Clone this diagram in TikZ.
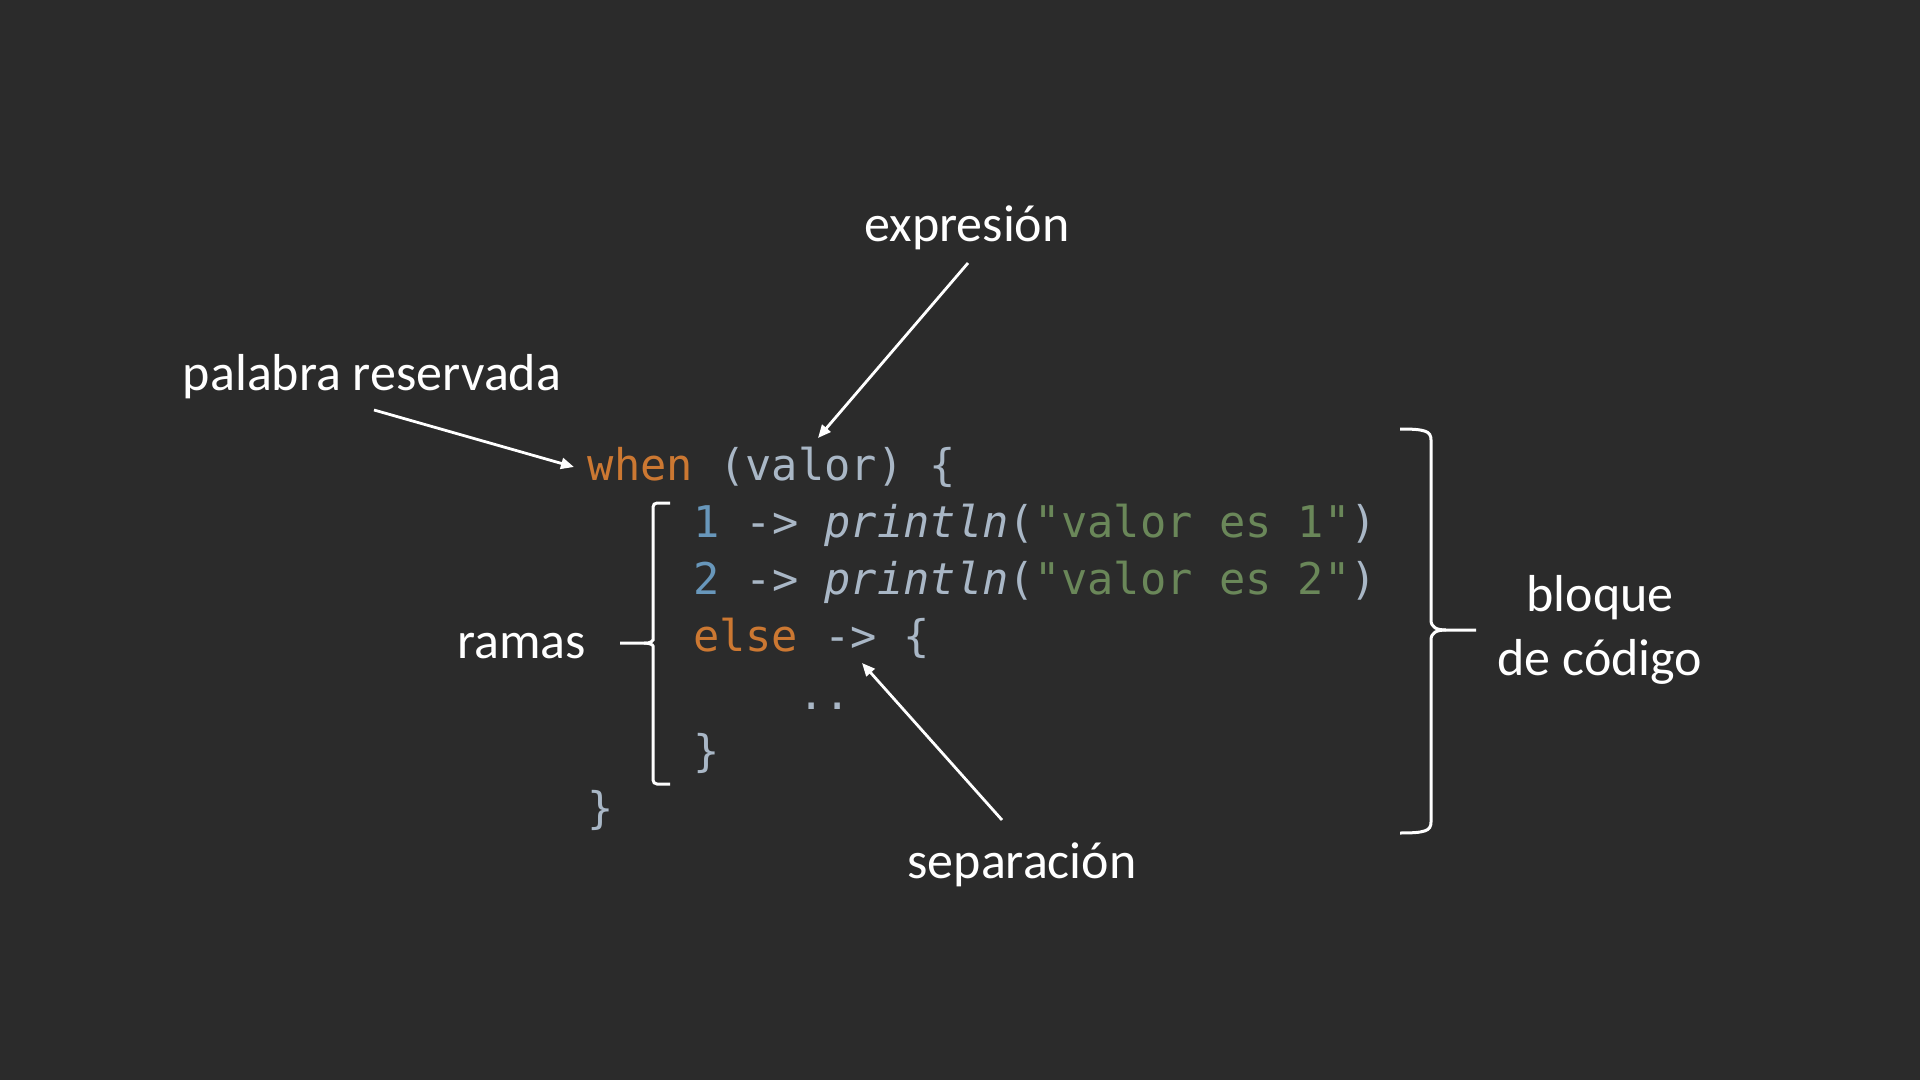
\documentclass[tikz,border=0pt]{standalone}
\usepackage{fontspec}
\setmainfont{Carlito}
\setmonofont{DejaVu Sans Mono}
\usetikzlibrary{arrows.meta}
\definecolor{BgDark}{HTML}{2B2B2B}
\definecolor{CodeText}{HTML}{A9B7C6}
\definecolor{CodeKey}{HTML}{CC7832}
\definecolor{CodeNum}{HTML}{6897BB}
\definecolor{CodeStr}{HTML}{6A8759}
\newcommand{\ckw}[1]{\textcolor{CodeKey}{#1}}
\newcommand{\cnum}[1]{\textcolor{CodeNum}{#1}}
\newcommand{\cstr}[1]{\textcolor{CodeStr}{#1}}
\newcommand{\cfn}[1]{\textit{#1}}
\frenchspacing

\begin{document}
\begin{tikzpicture}[
    x=0.5pt, y=-0.5pt,
    lbl/.style={text=white, font=\fontsize{26}{32}\selectfont, inner sep=0pt},
    code/.style={text=CodeText, font=\ttfamily\fontsize{21.84}{28}\selectfont,
                 inner sep=0pt, anchor=base west},
    arrow/.style={-{Triangle[length=6.5pt, width=5.5pt]}, line width=1.4pt, white},
    brace/.style={line width=1.5pt, white}]

\fill[BgDark] (0,0) rectangle (1920,1080);
\useasboundingbox (0,0) rectangle (1920,1080);

% codigo
\node[code] (l1) at (587.5,480) {\ckw{when} (valor) \{};
\node[code] (l2) at (692.7,537.3) {\cnum{1} -> \cfn{println}(\cstr{"valor es 1"})};
\node[code] (l3) at (692.7,594.6) {\cnum{2} -> \cfn{println}(\cstr{"valor es 2"})};
\node[code] (l4) at (692.7,651.9) {\ckw{else} -> \{};
\node[code] (l5) at (797.9,709.2) {..};
\node[code] (l6) at (692.7,766.5) {\}};
\node[code] (l7) at (587.5,823.8) {\}};

% etiquetas
\node[lbl, anchor=base] (expresion) at (967,242) {expresión};
\node[lbl, anchor=base] (palabra) at (372,390) {palabra reservada};
\node[lbl, anchor=base] (ramas) at (521.5,658) {ramas};
\node[lbl, anchor=base] (separacion) at (1022,878) {separación};
\node[lbl, align=center] (bloque) at (1600,630) {bloque\\de código};

% flechas
\coordinate (palabra-tail) at (374,410);
\coordinate (when-tip) at (574,467);
\coordinate (expresion-tail) at (968,263);
\coordinate (valor-tip) at (818,438);
\coordinate (separacion-tail) at (1002,820);
\coordinate (flecha-tip) at (862,663);

\draw[arrow] (palabra-tail) -- (when-tip);
\draw[arrow] (expresion-tail) -- (valor-tip);
\draw[arrow] (separacion-tail) -- (flecha-tip);

% llaves
\draw[brace, rounded corners=2pt] (670,503) -- (653,503) -- (653,636)
    .. controls (653,641) and (650,643) .. (644,643) -- (620,643);
\draw[brace, rounded corners=2pt] (644,643) .. controls (650,643) and (653,645) .. (653,650)
    -- (653,784) -- (670,784);
\draw[brace] (1400,429) .. controls (1425,429) and (1431,431) .. (1431,440) -- (1431,620)
    .. controls (1431,627) and (1436,630) .. (1446,630) -- (1476,630);
\draw[brace] (1446,630) .. controls (1436,630) and (1431,633) .. (1431,640) -- (1431,822)
    .. controls (1431,831) and (1425,833) .. (1400,833);
\end{tikzpicture}
\end{document}
